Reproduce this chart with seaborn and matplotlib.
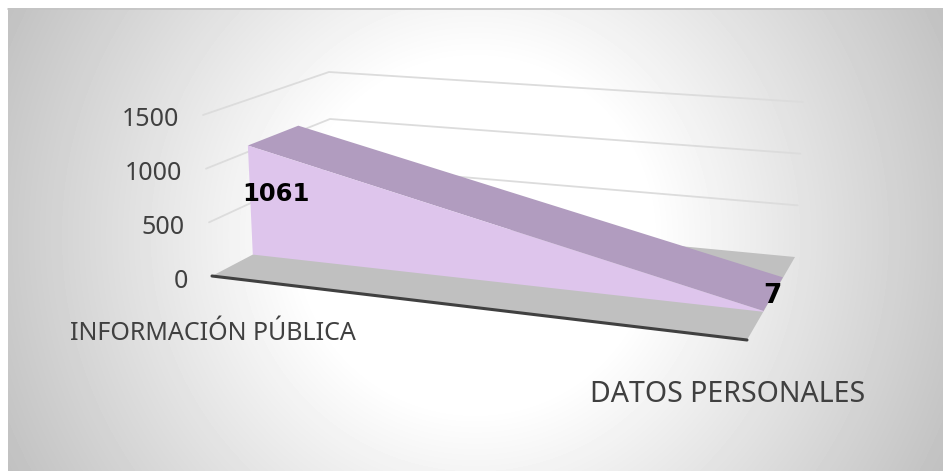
import numpy as np
import pandas as pd
import matplotlib
matplotlib.use('Agg')
import matplotlib.pyplot as plt
import seaborn as sns

categories = ['INFORMACIÓN PÚBLICA', 'DATOS PERSONALES']
values = [1061, 7]
y_ticks = [0, 500, 1000, 1500]

AREA_FRONT = 0.34
AREA_BACK = 0.746

# pixel position of the 3d box corners (x, value, depth)
CORNERS = {
    (0, 0, 0): (212, 276), (0, 1, 0): (203, 115),
    (0, 0, 1): (332, 213), (0, 1, 1): (329, 72),
    (1, 0, 0): (747, 340), (1, 1, 0): (757, 163),
    (1, 0, 1): (795, 257), (1, 1, 1): (803, 102),
}


def project(x, val, z):
    v = val / y_ticks[-1]
    px = np.zeros(2)
    for (cx, cy, cz), p in CORNERS.items():
        w = (x if cx else 1 - x) * (v if cy else 1 - v) * (z if cz else 1 - z)
        px += w * np.array(p)
    return px


def poly(ax, pts, color):
    pts = np.array(pts)
    ax.fill(pts[:, 0], pts[:, 1], color=color, lw=0, zorder=3)


def line(ax, pts, color, lw, zorder=2):
    pts = np.array(pts)
    df = pd.DataFrame({'x': pts[:, 0], 'y': pts[:, 1]})
    sns.lineplot(data=df, x='x', y='y', sort=False, estimator=None, color=color,
                 linewidth=lw, ax=ax, zorder=zorder)


sns.set_theme(style='white')
plt.rcParams['font.family'] = ['Noto Sans', 'DejaVu Sans']

fig = plt.figure(figsize=(9.43, 4.71), dpi=100, facecolor='white')
ax = fig.add_axes([0, 0, 1, 1])

# radial background, reaches the right and bottom edge of the image
yy, xx = np.mgrid[8:471, 8:943]
r = np.sqrt((xx - 475) ** 2 + (yy - 235) ** 2) / 530
shade = 1 - 0.25 * np.clip((r - 0.33) / 0.67, 0, 1)
ax.imshow(shade, extent=(8, 943, 471, 8), cmap='gray', vmin=0, vmax=1, aspect='auto', zorder=0)
ax.set_xlim(0, 943)
ax.set_ylim(471, 0)
ax.axis('off')
line(ax, [(8, 8.5), (943, 8.5)], '#c4c4c4', 1.2, zorder=1)

for t in y_ticks[1:]:
    line(ax, [project(0, t, 0), project(0, t, 1), project(1, t, 1)], '#dcdcdc', 1.3)

# floor
poly(ax, [project(0, 0, 0), project(0, 0, 1), project(1, 0, 1), project(1, 0, 0)], '#c0c0c0')
line(ax, [project(0, 0, 0), project(1, 0, 0)], '#404040', 2.2, zorder=4)

# area: top band and front face
poly(ax, [project(0, values[0], AREA_FRONT), project(0, values[0], AREA_BACK),
          project(1, values[1], AREA_BACK), project(1, values[1], AREA_FRONT)], '#b19cbf')
poly(ax, [project(0, 0, AREA_FRONT), project(0, values[0], AREA_FRONT),
          project(1, values[1], AREA_FRONT), project(1, 0, AREA_FRONT)], '#dec5ec')

for t in y_ticks:
    p = project(0, t, 0)
    ax.text(p[0] - 24, p[1] + 5, str(t), ha='right', va='center', fontsize=18, color='#404040', zorder=5)

ax.text(213, 333, categories[0], ha='center', va='center', fontsize=18, color='#404040', zorder=5)
ax.text(727.5, 394, categories[1], ha='center', va='center', fontsize=20.5, color='#404040', zorder=5)

ax.text(275.5, 194, str(values[0]), ha='center', va='center', fontsize=17.5, fontweight='bold',
        family='DejaVu Sans', color='black', zorder=5)
ax.text(772, 296, str(values[1]), ha='center', va='center', fontsize=19, fontweight='bold',
        family='DejaVu Sans', color='black', zorder=5)

fig.savefig('out.png', dpi=100)
